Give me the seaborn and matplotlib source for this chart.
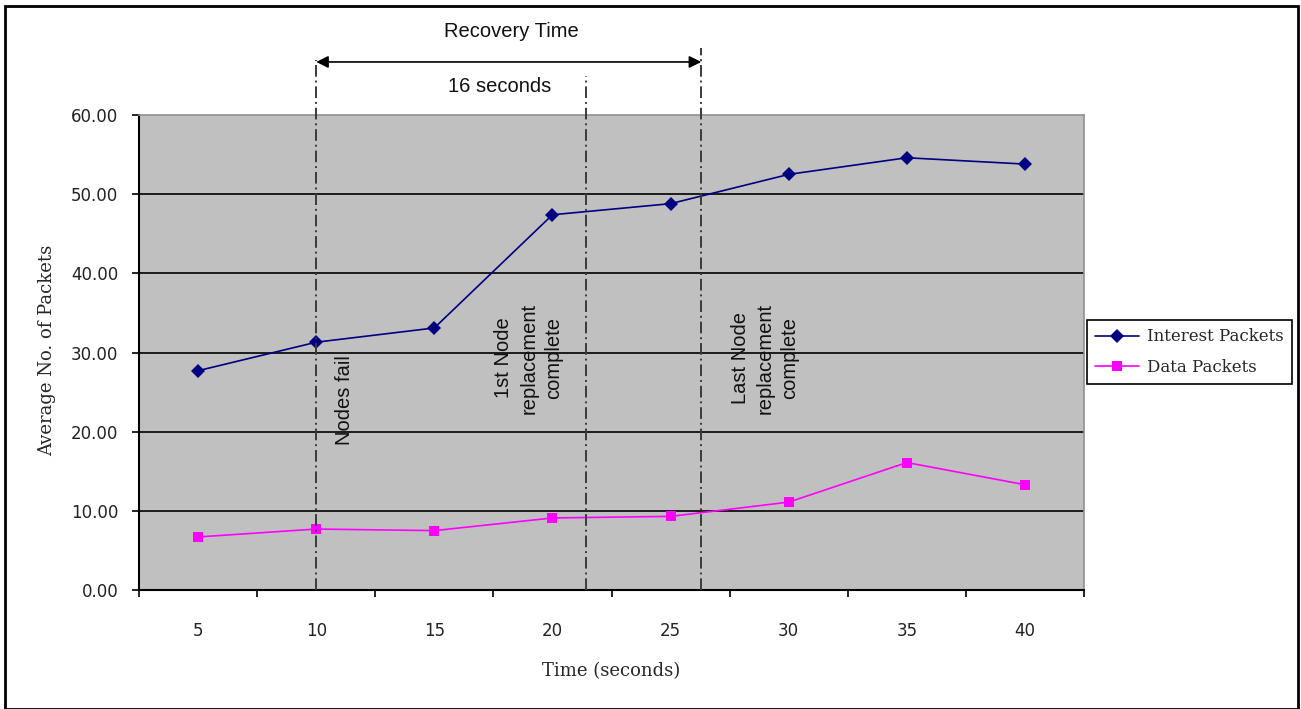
import matplotlib
matplotlib.use("Agg")
import matplotlib.pyplot as plt
import seaborn as sns
import pandas as pd
from matplotlib.patches import Rectangle

# ---- data ----
time_s = [5, 10, 15, 20, 25, 30, 35, 40]
interest_packets = [27.7, 31.3, 33.1, 47.4, 48.8, 52.5, 54.6, 53.8]
data_packets = [6.7, 7.7, 7.5, 9.1, 9.3, 11.1, 16.1, 13.3]
series_names = ["Interest Packets", "Data Packets"]
y_ticks = [0, 10, 20, 30, 40, 50, 60]
event_times = [10, 21.4, 26.3]
event_tops = [66.9, 64.9, 68.5]
event_labels = ["Nodes fail", "1st Node\nreplacement\ncomplete", "Last Node\nreplacement\ncomplete"]
event_label_pos = [(11.2, 24.0), (19.0, 29.3), (29.0, 29.3)]

df = pd.DataFrame({
    "Time": time_s * 2,
    "Packets": interest_packets + data_packets,
    "Series": [series_names[0]] * len(time_s) + [series_names[1]] * len(time_s),
})

sns.set_style("white")
fig = plt.figure(figsize=(13.01, 7.09), dpi=100)
ax = fig.add_axes([139 / 1301, 1 - 590 / 709, (1084 - 139) / 1301, (590 - 115) / 709])
ax.set_facecolor("#C0C0C0")

# gridlines
for yv in y_ticks[1:-1]:
    ax.axhline(yv, color="black", lw=1.2, zorder=1)

sns.lineplot(data=df, x="Time", y="Packets", hue="Series", style="Series",
             palette={series_names[0]: "#000080", series_names[1]: "#FF00FF"},
             markers={series_names[0]: "D", series_names[1]: "s"},
             dashes=False, markersize=7, markeredgewidth=0, lw=1.2, ax=ax, zorder=3)

ax.set_xlim(2.5, 42.5)
ax.set_ylim(0, 60)
ax.set_yticks(y_ticks)
ax.set_yticklabels([f"{v:.2f}" for v in y_ticks])
ax.set_xticks(time_s)
ax.set_xticklabels([str(t) for t in time_s])
ax.set_xticks([2.5 + 5 * i for i in range(9)], minor=True)
ax.tick_params(axis="x", which="major", length=0, pad=23, labelsize=12)
ax.tick_params(axis="x", which="minor", length=5, width=1.2, direction="out", bottom=True, color="black")
ax.tick_params(axis="y", which="major", length=5, width=1.2, direction="out", left=True, pad=10, labelsize=12, color="black")
for lab in ax.get_xticklabels() + ax.get_yticklabels():
    lab.set_fontfamily("DejaVu Sans")
    lab.set_color("#222222")

for side in ["left", "bottom"]:
    ax.spines[side].set_color("black")
    ax.spines[side].set_linewidth(1.5)
for side in ["top", "right"]:
    ax.spines[side].set_color("#909090")
    ax.spines[side].set_linewidth(1.2)

ax.set_xlabel("Time (seconds)", fontfamily="DejaVu Serif", fontsize=13)
ax.set_ylabel("Average No. of Packets", fontfamily="DejaVu Serif", fontsize=13)
ax.xaxis.set_label_coords(0.5, -0.152)
ax.yaxis.set_label_coords(-0.088, 0.505)

# event lines
for t, top in zip(event_times, event_tops):
    ax.plot([t, t], [0, top], color="#3a3a3a", lw=1.4, ls=(0, (6, 2, 1, 2)), clip_on=False, zorder=4)

for lab, (xp, yp) in zip(event_labels, event_label_pos):
    ax.text(xp, yp, lab, rotation=90, ha="center", va="center", multialignment="center",
            fontfamily="Liberation Sans", fontsize=14.5, linespacing=1.4, color="#111111", zorder=5)

# recovery arrow
ax.annotate("", xy=(event_times[0], 66.7), xytext=(event_times[2], 66.7),
            arrowprops=dict(arrowstyle="<|-|>", color="black", lw=1.2, mutation_scale=18,
                            shrinkA=0, shrinkB=0), annotation_clip=False)
ax.text(18.27, 70.5, "Recovery Time", ha="center", va="center",
        fontfamily="Liberation Sans", fontsize=14.5, color="#111111")
ax.text(17.76, 63.6, "16 seconds", ha="center", va="center",
        fontfamily="Liberation Sans", fontsize=14.5, color="#111111")

# legend
handles, labels = ax.get_legend_handles_labels()
leg = ax.legend(handles, labels, loc="center left",
                bbox_to_anchor=(1087 / 1301, 1 - 352 / 709), bbox_transform=fig.transFigure,
                frameon=True, fancybox=False, edgecolor="black", framealpha=1,
                prop={"family": "DejaVu Serif", "size": 12}, handlelength=2.6,
                borderpad=0.5, labelspacing=0.8, handletextpad=0.5, borderaxespad=0)
leg.get_frame().set_linewidth(1.2)

# figure border
fig.patches.append(Rectangle((5 / 1301, 0.0), (1298 - 5) / 1301, 1 - 6 / 709,
                             transform=fig.transFigure, fill=False, edgecolor="black", lw=2))

fig.savefig("out.png", dpi=100, facecolor="white")
